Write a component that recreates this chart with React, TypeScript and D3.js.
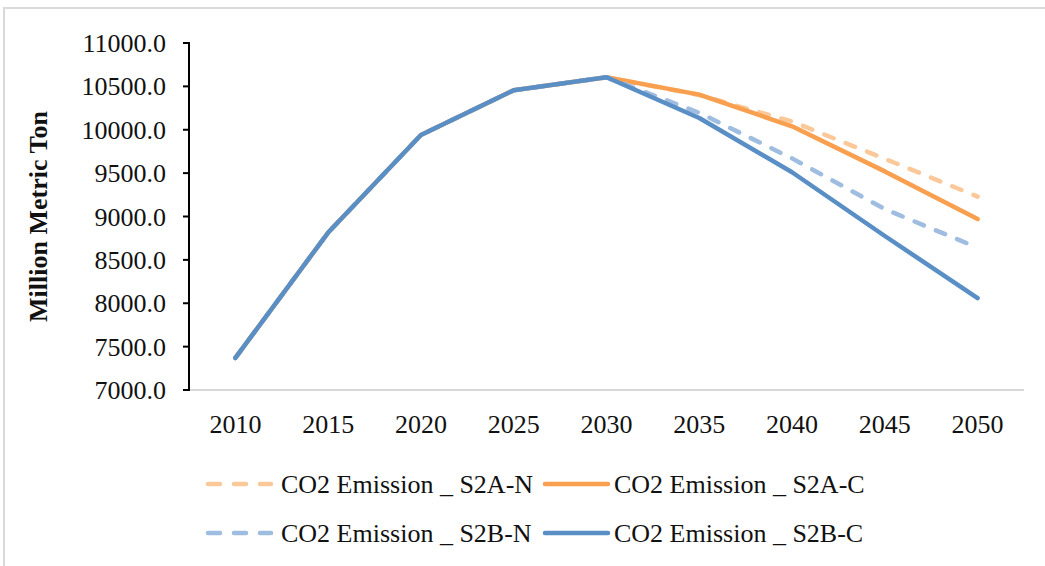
import React from "react";
import * as d3 from "d3";

const years = ["2010", "2015", "2020", "2025", "2030", "2035", "2040", "2045", "2050"];
const s2aN = [7370, 8815, 9940, 10455, 10605, 10400, 10095, 9665, 9230];
const s2aC = [7370, 8815, 9940, 10455, 10605, 10405, 10040, 9520, 8970];
const s2bN = [7370, 8815, 9940, 10455, 10605, 10195, 9670, 9085, 8640];
const s2bC = [7370, 8815, 9940, 10455, 10605, 10135, 9510, 8775, 8060];
const yTicks = [7000, 7500, 8000, 8500, 9000, 9500, 10000, 10500, 11000];

const seriesList = [
  { name: "CO2 Emission _ S2A-N", values: s2aN, color: "#fbc999", dash: true },
  { name: "CO2 Emission _ S2A-C", values: s2aC, color: "#f8a04f", dash: false },
  { name: "CO2 Emission _ S2B-N", values: s2bN, color: "#9ebde0", dash: true },
  { name: "CO2 Emission _ S2B-C", values: s2bC, color: "#5a8fc6", dash: false },
];

const FONT = "'Liberation Serif', 'Times New Roman', serif";

export default function App() {
  const W = 1045, H = 566;
  const x = d3.scaleBand<string>().domain(years).range([189, 1024]);
  const y = d3.scaleLinear().domain([7000, 11000]).range([390, 43]);
  const line = d3
    .line<number>()
    .x((_, i) => (x(years[i]) as number) + x.bandwidth() / 2)
    .y((v) => y(v));
  const dashArr = "10,13";
  const legendPos = [
    { sx: 206, tx: 281, cy: 484 },
    { sx: 543, tx: 614, cy: 484 },
    { sx: 206, tx: 281, cy: 533 },
    { sx: 543, tx: 614, cy: 533 },
  ];
  return (
    <svg width={W} height={H} style={{ position: "absolute", left: 0, top: 0, background: "#fff" }}>
      <rect x={4} y={8} width={1100} height={600} fill="#fff" stroke="#d9d9d9" strokeWidth={2} />
      {/* x axis */}
      <line x1={189} x2={1024} y1={390} y2={390} stroke="#d9d9d9" strokeWidth={2} />
      {years.map((yr) => (
        <text
          key={yr}
          x={(x(yr) as number) + x.bandwidth() / 2}
          y={433}
          textAnchor="middle"
          fontFamily={FONT}
          fontSize={26}
          fill="#111"
        >
          {yr}
        </text>
      ))}
      {/* y axis */}
      <line x1={189} x2={189} y1={42} y2={391} stroke="#000" strokeWidth={2} />
      {yTicks.map((t) => (
        <g key={t}>
          <line x1={183} x2={189} y1={y(t)} y2={y(t)} stroke="#000" strokeWidth={2} />
          <text
            x={166}
            y={y(t)}
            dy="0.35em"
            textAnchor="end"
            fontFamily={FONT}
            fontSize={26}
            fill="#111"
          >
            {d3.format(".1f")(t)}
          </text>
        </g>
      ))}
      <text
        transform={`translate(38,${(y(7000) + y(11000)) / 2}) rotate(-90)`}
        textAnchor="middle"
        dy="0.35em"
        fontFamily={FONT}
        fontSize={26}
        fontWeight="bold"
        fill="#111"
      >
        Million Metric Ton
      </text>
      {/* lines */}
      {seriesList.map((s) => (
        <path
          key={s.name}
          d={line(s.values) || ""}
          fill="none"
          stroke={s.color}
          strokeWidth={4.5}
          strokeLinecap="round"
          strokeLinejoin="round"
          strokeDasharray={s.dash ? dashArr : undefined}
        />
      ))}
      {/* legend */}
      {seriesList.map((s, i) => {
        const p = legendPos[i];
        return (
          <g key={s.name}>
            <line
              x1={p.sx + 2}
              x2={p.sx + 65}
              y1={p.cy}
              y2={p.cy}
              stroke={s.color}
              strokeWidth={4.5}
              strokeLinecap="round"
              strokeDasharray={s.dash ? "12,14" : undefined}
            />
            <text x={p.tx} y={p.cy} dy="0.35em" fontFamily={FONT} fontSize={26} fill="#111">
              {s.name}
            </text>
          </g>
        );
      })}
    </svg>
  );
}
